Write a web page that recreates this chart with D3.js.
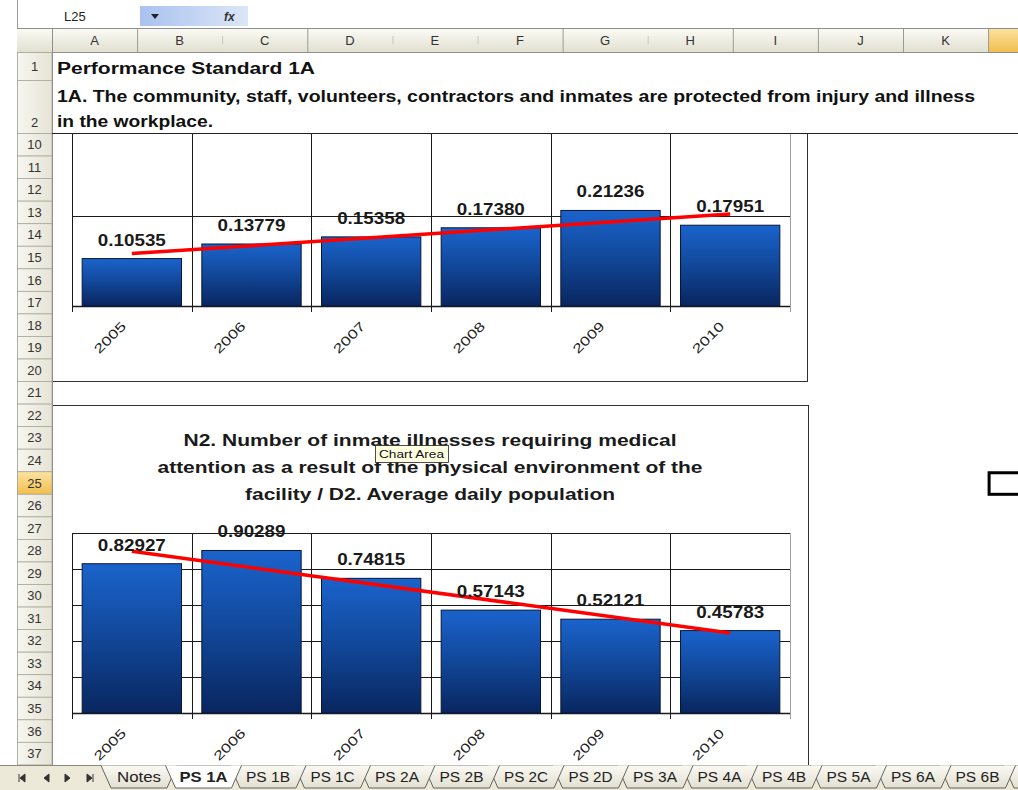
<!DOCTYPE html>
<html><head><meta charset="utf-8">
<script src="https://cdn.jsdelivr.net/npm/d3@7/dist/d3.min.js"></script>
<style>
body{margin:0;background:#fff;overflow:hidden}
svg{display:block;font-family:"Liberation Sans",Arial,sans-serif}
</style>
</head><body>
<svg id="c" width="1018" height="790"></svg>
<script>
// ---------------- data ----------------
const years = ["2005", "2006", "2007", "2008", "2009", "2010"];
const injuryRatio = [0.10535, 0.13779, 0.15358, 0.17380, 0.21236, 0.17951];
const illnessRatio = [0.82927, 0.90289, 0.74815, 0.57143, 0.52121, 0.45783];
const chart1Max = 0.4;
const chart2Max = 1.0;
const chart2Title = [
  "N2. Number of inmate illnesses requiring medical",
  "attention as a result of the physical environment of the",
  "facility / D2. Average daily population"
];
const sheetHeading = "Performance Standard 1A";
const standardText = [
  "1A. The community, staff, volunteers, contractors and inmates are protected from injury and illness",
  "in the workplace."
];
const columnLetters = ["A","B","C","D","E","F","G","H","I","J","K","L"];
const rowNumbers = [1, 2, 10, 11, 12, 13, 14, 15, 16, 17, 18, 19, 20, 21, 22, 23, 24, 25, 26, 27, 28, 29, 30, 31, 32, 33, 34, 35, 36, 37];
const sheetTabs = ["Notes","PS 1A","PS 1B","PS 1C","PS 2A","PS 2B","PS 2C","PS 2D","PS 3A","PS 4A","PS 4B","PS 5A","PS 6A","PS 6B"];
const activeTab = "PS 1A";
const nameBox = "L25";
const selectedRow = 25, selectedCol = "L";

// ---------------- setup ----------------
const W = 1018;
const svg = d3.select("#c");
const defs = svg.append("defs");
function grad(id, stops, vertical=true){
  const g = defs.append("linearGradient").attr("id", id)
    .attr("x1",0).attr("y1",0).attr("x2", vertical?0:1).attr("y2", vertical?1:0);
  stops.forEach(([o,c]) => g.append("stop").attr("offset", o).attr("stop-color", c));
}
grad("hdr", [["0%","#FBFBF7"],["100%","#E2E0D0"]]);
grad("rowhdr", [["0%","#F7F6F0"],["100%","#E6E4D6"]], false);
grad("selhdr", [["0%","#FCE3A2"],["100%","#F2BE4E"]]);
grad("fbar", [["0%","#A9C2EE"],["100%","#DCE6F8"]], false);
grad("tab", [["0%","#FAF9F4"],["100%","#E3E0D0"]]);
grad("barFill", [["0%","#1A63CC"],["45%","#124A9E"],["100%","#09265F"]]);

// ---------------- spreadsheet chrome ----------------
const colW = 85.1, colX0 = 52;
const colX = i => colX0 + i*colW;
function rowTop(r){ return r===1 ? 52 : r===2 ? 80 : 133 + (r-10)*22.55; }
function rowBot(r){ return r===1 ? 80 : r===2 ? 133 : 133 + (r-9)*22.55; }

// formula bar
const fb = svg.append("g");
fb.append("rect").attr("x",140).attr("y",6).attr("width",108).attr("height",20).attr("fill","url(#fbar)");
fb.append("text").attr("x",64).attr("y",21).attr("font-size",13).attr("fill","#222").text(nameBox);
fb.append("path").attr("d","M151,14 L159,14 L155,19 Z").attr("fill","#222");
fb.append("text").attr("x",224).attr("y",21).attr("font-size",12).attr("font-style","italic").attr("font-weight","bold").attr("fill","#333").text("fx");
svg.append("line").attr("x1",17.5).attr("x2",17.5).attr("y1",0).attr("y2",765).attr("stroke","#9a9a9a");

// column header
const ch = svg.append("g");
ch.append("rect").attr("x",17).attr("y",28).attr("width",1001).attr("height",24).attr("fill","url(#hdr)");
ch.append("rect").attr("x",colX(11)).attr("y",28).attr("width",colW).attr("height",24).attr("fill","url(#selhdr)");
ch.append("line").attr("x1",17).attr("x2",1018).attr("y1",28.5).attr("y2",28.5).attr("stroke","#8f8f8f");
ch.append("line").attr("x1",17).attr("x2",1018).attr("y1",52.5).attr("y2",52.5).attr("stroke","#8f8f8f");
ch.selectAll("line.cdiv").data(d3.range(columnLetters.length+1)).join("line")
  .attr("x1", i => colX(i)+0.5).attr("x2", i => colX(i)+0.5)
  .attr("y1", i => [2,4,5,7].includes(i) ? 36 : 29).attr("y2", i => [2,4,5,7].includes(i) ? 44 : 52)
  .attr("stroke", i => [2,4,5,7].includes(i) ? "#c8c8c0" : "#9b9b92");
// only letters whose header cell centre is inside the window are drawn
ch.selectAll("text").data(columnLetters.filter((d,i) => colX(i) + colW/2 < W - 6)).join("text")
  .attr("x", (d,i) => colX(i) + colW/2).attr("y", 45).attr("text-anchor","middle")
  .attr("font-size",13).attr("fill","#333").text(d => d);

// row header
const rh = svg.append("g");
rh.selectAll("rect").data(rowNumbers).join("rect")
  .attr("x",17.5).attr("y", d => rowTop(d)+0.5).attr("width",34.5).attr("height", d => rowBot(d)-rowTop(d))
  .attr("fill", d => d===selectedRow ? "url(#selhdr)" : "url(#rowhdr)")
  .attr("stroke","#a8a89c").attr("stroke-width",0.8);
rh.selectAll("text").data(rowNumbers).join("text")
  .attr("x",34.5).attr("y", d => d===2 ? 127 : d===1 ? 71 : (rowTop(d)+rowBot(d))/2 + 5)
  .attr("text-anchor","middle").attr("font-size",13).attr("fill","#333").text(d => d);
svg.append("line").attr("x1",52.5).attr("x2",52.5).attr("y1",28).attr("y2",765).attr("stroke","#8f8f8f");
svg.append("line").attr("x1",52).attr("x2",1018).attr("y1",133.5).attr("y2",133.5).attr("stroke","#222");

// cell text
const ct = svg.append("g").attr("font-weight","bold").attr("font-size",16).attr("fill","#111");
ct.append("text").attr("x",57).attr("y",74).attr("textLength",258).attr("lengthAdjust","spacingAndGlyphs").text(sheetHeading);
ct.append("text").attr("x",57).attr("y",102).attr("textLength",918).attr("lengthAdjust","spacingAndGlyphs").text(standardText[0]);
ct.append("text").attr("x",57).attr("y",127).attr("textLength",156).attr("lengthAdjust","spacingAndGlyphs").text(standardText[1]);

// ---------------- charts ----------------
defs.append("clipPath").attr("id","belowFreeze").append("rect").attr("x",53).attr("y",134).attr("width",965).attr("height",631);

function regression(vals){
  const n = vals.length, xs = d3.range(1, n+1);
  const mx = d3.mean(xs), my = d3.mean(vals);
  const sxy = d3.sum(xs, (x,i) => (x-mx)*(vals[i]-my));
  const sxx = d3.sum(xs, x => (x-mx)*(x-mx));
  const b = sxy/sxx, a = my - b*mx;
  return xs.map(x => a + b*x);
}

function drawChart(g, values, yMax, box, plot){
  g.append("rect").attr("x",box.x0+0.5).attr("y",box.y0+0.5)
    .attr("width",box.x1-box.x0).attr("height",box.y1-box.y0)
    .attr("fill","#fff").attr("stroke","#333").attr("stroke-width",1);
  const x = d3.scaleBand().domain(years).range([plot.x0, plot.x1]).paddingInner(0.17).paddingOuter(0.085);
  const y = d3.scaleLinear().domain([0, yMax]).range([plot.y1, plot.y0]);
  const step = x.step();
  // horizontal gridlines
  g.append("g").selectAll("line").data(y.ticks(Math.round(yMax/0.2)).filter(t => t>0)).join("line")
    .attr("x1",plot.x0).attr("x2",plot.x1)
    .attr("y1", d => Math.round(y(d))+0.5).attr("y2", d => Math.round(y(d))+0.5)
    .attr("stroke","#1a1a1a").attr("stroke-width",1);
  // vertical category gridlines + ticks
  g.append("g").selectAll("line").data(d3.range(years.length+1)).join("line")
    .attr("x1", i => Math.round(plot.x0 + i*step)+0.5).attr("x2", i => Math.round(plot.x0 + i*step)+0.5)
    .attr("y1", plot.y0).attr("y2", plot.y1+6)
    .attr("stroke", i => i===years.length ? "#a0a0a0" : "#1a1a1a").attr("stroke-width",1);
  // axis line
  g.append("line").attr("x1",plot.x0).attr("x2",plot.x1).attr("y1",plot.y1+0.5).attr("y2",plot.y1+0.5)
    .attr("stroke","#1a1a1a").attr("stroke-width",1.5);
  // bars
  g.append("g").selectAll("rect").data(values).join("rect")
    .attr("x",(d,i) => x(years[i])).attr("width", x.bandwidth())
    .attr("y", d => y(d)).attr("height", d => y(0)-y(d))
    .attr("fill","url(#barFill)").attr("stroke","#061638").attr("stroke-width",1);
  // linear trendline (least squares over the six values)
  const trend = regression(values);
  const cx = i => x(years[i]) + x.bandwidth()/2;
  g.append("path")
    .attr("d", d3.line()([[cx(0), y(trend[0])],[cx(years.length-1), y(trend[trend.length-1])]]))
    .attr("stroke","#FF0000").attr("stroke-width",3.5).attr("fill","none");
  // data labels
  g.append("g").selectAll("text").data(values).join("text")
    .attr("x",(d,i) => cx(i)).attr("y", d => y(d) - 13)
    .attr("text-anchor","middle").attr("font-size",16).attr("font-weight","bold").attr("fill","#1a1a1a")
    .attr("textLength",68).attr("lengthAdjust","spacingAndGlyphs")
    .text(d => d.toFixed(5));
  // category labels
  g.append("g").selectAll("text").data(years).join("text")
    .attr("transform", (d,i) => `translate(${cx(i)-5},${plot.y1+21}) rotate(-45)`)
    .attr("text-anchor","end").attr("font-size",13).attr("fill","#222")
    .attr("textLength",39).attr("lengthAdjust","spacingAndGlyphs")
    .text(d => d);
  return {x, y};
}

const charts = svg.append("g").attr("clip-path","url(#belowFreeze)");
const c1 = charts.append("g");
drawChart(c1, injuryRatio, chart1Max, {x0:52, x1:807, y0:20, y1:381}, {x0:72, x1:790, y0:126, y1:306});

const c2 = charts.append("g");
drawChart(c2, illnessRatio, chart2Max, {x0:52, x1:808, y0:405, y1:800}, {x0:72, x1:790, y0:533, y1:713});
const tl = [493, 545, 370];
c2.append("g").selectAll("text").data(chart2Title).join("text")
  .attr("x",430).attr("y",(d,i) => 446 + i*27).attr("text-anchor","middle")
  .attr("font-size",17).attr("font-weight","bold").attr("fill","#1a1a1a")
  .attr("textLength",(d,i) => tl[i]).attr("lengthAdjust","spacingAndGlyphs")
  .text(d => d);

// tooltip
const tip = svg.append("g");
tip.append("rect").attr("x",375.5).attr("y",445.5).attr("width",73).attr("height",17).attr("fill","#FFFFE1").attr("stroke","#222").attr("stroke-width",0.8);
tip.append("text").attr("x",379).attr("y",458).attr("font-size",11).attr("fill","#111")
  .attr("textLength",65).attr("lengthAdjust","spacingAndGlyphs").text("Chart Area");

// selected cell
const selIdx = columnLetters.indexOf(selectedCol);
svg.append("rect").attr("x",colX(selIdx)+1).attr("y",rowTop(selectedRow)+1.5)
  .attr("width",colW).attr("height",rowBot(selectedRow)-rowTop(selectedRow)-1)
  .attr("fill","none").attr("stroke","#000").attr("stroke-width",3);

// ---------------- sheet tabs ----------------
const tb = svg.append("g");
tb.append("rect").attr("x",0).attr("y",765).attr("width",1018).attr("height",25).attr("fill","#ECE9D8");
tb.append("line").attr("x1",0).attr("x2",1018).attr("y1",765.5).attr("y2",765.5).attr("stroke","#8a8a80");
const nav = [[22,"first"],[46,"prev"],[68,"next"],[90,"last"]];
nav.forEach(([cx,k]) => {
  const p = k==="first" ? `M${cx-3},774 L${cx-3},782 M${cx+3},774 L${cx-2},778 L${cx+3},782 Z`
          : k==="prev" ? `M${cx+3},774 L${cx-2},778 L${cx+3},782 Z`
          : k==="next" ? `M${cx-3},774 L${cx+2},778 L${cx-3},782 Z`
          : `M${cx+3},774 L${cx+3},782 M${cx-3},774 L${cx+2},778 L${cx-3},782 Z`;
  tb.append("path").attr("d",p).attr("fill","#333").attr("stroke","#333").attr("stroke-width",1);
});
const tabX = d3.scaleLinear().domain([0, sheetTabs.length-1]).range([139, 977.5]);
const tabHalf = 32;
function tabPath(cx){
  return `M${cx-tabHalf-6},765.5 L${cx-tabHalf+4},788 L${cx+tabHalf-4},788 L${cx+tabHalf+6},765.5`;
}
const order = sheetTabs.map((t,i)=>i).filter(i => sheetTabs[i]!==activeTab).reverse();
order.push(sheetTabs.indexOf(activeTab));
tb.append("path").attr("d",tabPath(tabX(sheetTabs.length))).attr("fill","url(#tab)").attr("stroke","#555").attr("stroke-width",0.9);
order.forEach(i => {
  const active = sheetTabs[i]===activeTab;
  tb.append("path").attr("d",tabPath(tabX(i))).attr("fill", active ? "#fff" : "url(#tab)")
    .attr("stroke","#555").attr("stroke-width",0.9);
  tb.append("text").attr("x",tabX(i)).attr("y",782).attr("text-anchor","middle")
    .attr("font-size",14).attr("font-weight", active ? "bold" : "normal").attr("fill","#222")
    .attr("textLength", active ? 48 : 44).attr("lengthAdjust","spacingAndGlyphs")
    .text(sheetTabs[i]);
});
</script>
</body></html>
